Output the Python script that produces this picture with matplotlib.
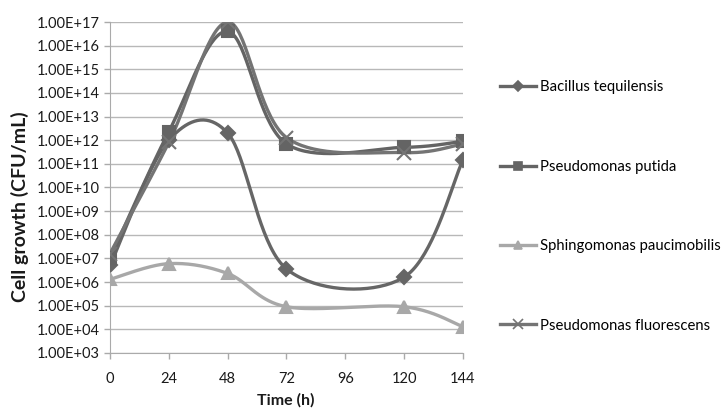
import numpy as np
import matplotlib
matplotlib.use('Agg')
import matplotlib.pyplot as plt

plt.rcParams['font.family'] = ['Lato', 'DejaVu Sans']

# time points (h)
hours = [0, 24, 48, 72, 120, 144]

# cell growth values (CFU/mL)
bacillus = [5.0e6, 1.0e12, 2.0e12, 3.6e6, 1.6e6, 1.4e11]
putida = [1.0e7, 2.3e12, 4.0e16, 7.0e11, 5.0e11, 9.0e11]
sphingo = [1.3e6, 6.0e6, 2.3e6, 9.0e4, 9.0e4, 1.3e4]
fluorescens = [1.6e7, 8.0e11, 1.0e17, 1.3e12, 3.0e11, 7.0e11]

names = ['Bacillus tequilensis', 'Pseudomonas putida',
         'Sphingomonas paucimobilis', 'Pseudomonas fluorescens']
yticks = [10.0 ** k for k in range(3, 18)]
xticks = [0, 24, 48, 72, 96, 120, 144]


# Excel-style smoothed line: Catmull-Rom bezier in (x, log10 y)
def smooth(xs, ys, n=40):
    x = np.array(xs, dtype=float)
    y = np.log10(np.array(ys, dtype=float))
    px = np.concatenate([[x[0]], x, [x[-1]]])
    py = np.concatenate([[y[0]], y, [y[-1]]])
    outx, outy = [], []
    t = np.linspace(0, 1, n)
    for i in range(1, len(px) - 2):
        p0 = np.array([px[i], py[i]])
        p3 = np.array([px[i + 1], py[i + 1]])
        c1 = p0 + (np.array([px[i + 1], py[i + 1]]) - np.array([px[i - 1], py[i - 1]])) / 6
        c2 = p3 - (np.array([px[i + 2], py[i + 2]]) - np.array([px[i], py[i]])) / 6
        b = ((1 - t) ** 3)[:, None] * p0 + (3 * (1 - t) ** 2 * t)[:, None] * c1 \
            + (3 * (1 - t) * t ** 2)[:, None] * c2 + (t ** 3)[:, None] * p3
        outx.extend(b[:, 0])
        outy.extend(b[:, 1])
    return np.array(outx), 10 ** np.array(outy)


fig = plt.figure(figsize=(7.21, 4.08), dpi=100)
ax = fig.add_axes([0.1526, 0.135, 0.642 - 0.1526, 0.946 - 0.135])

series = [bacillus, putida, sphingo, fluorescens]
colors = ['#666666', '#646464', '#a8a8a8', '#747474']
markers = ['D', 's', '^', 'x']
msizes = [7, 9, 9, 10]

for vals, name, c, m, ms in zip(series, names, colors, markers, msizes):
    sx, sy = smooth(hours, vals)
    ax.plot(sx, sy, color=c, lw=2.4, zorder=3)
    ax.plot(hours, vals, linestyle='none', marker=m, ms=ms, color=c,
            mec=c, mew=1.5, zorder=4)
    ax.plot([], [], color=c, lw=2.4, marker=m, ms=ms * 0.7, mew=1.2, label=name)

ax.set_yscale('log')
ax.set_ylim(1e3, 1e17)
ax.set_xlim(0, 144)
ax.set_yticks(yticks)
ax.set_yticklabels(['1.00E+%02d' % k for k in range(3, 18)])
ax.minorticks_off()
ax.set_xticks(xticks)
ax.set_xticklabels([str(v) for v in xticks])
ax.tick_params(axis='both', labelsize=10.5, colors='#aaaaaa', labelcolor='#1a1a1a',
               length=4, width=1)
ax.tick_params(axis='x', pad=10)
ax.yaxis.grid(True, color='#b8b8b8', lw=1)
ax.set_axisbelow(True)
for s in ['top', 'right']:
    ax.spines[s].set_visible(False)
for s in ['left', 'bottom']:
    ax.spines[s].set_color('#aaaaaa')

# axis titles placed where Excel put them
fig.text(20 / 721, 1 - 207 / 408, 'Cell growth (CFU/mL)', rotation=90,
         ha='center', va='center', fontsize=14, fontweight='bold', color='#1a1a1a')
fig.text(286 / 721, 1 - 400 / 408, 'Time (h)', ha='center', va='center',
         fontsize=11.5, fontweight='bold', color='#1a1a1a')

fig.legend(loc='center left', bbox_to_anchor=(0.675, 0.494), frameon=False,
           fontsize=10.7, labelspacing=4.4, handlelength=2.4, handletextpad=0.3)

fig.savefig('out.png', dpi=100)
